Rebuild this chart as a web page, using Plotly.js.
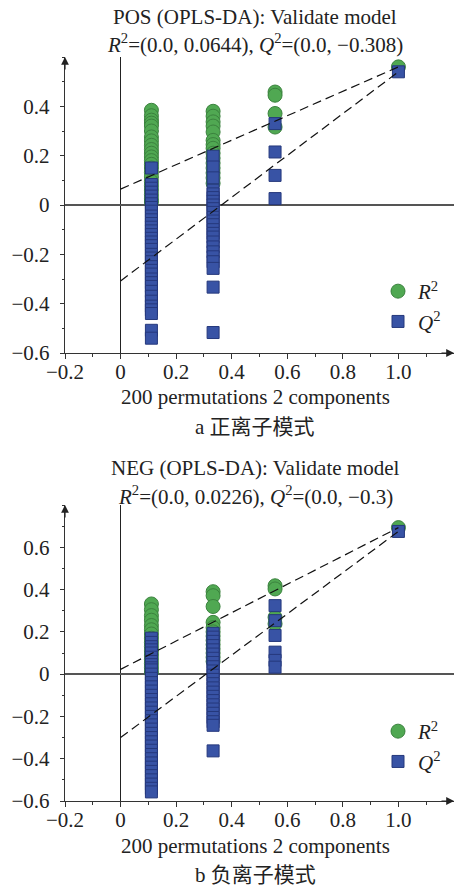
<!DOCTYPE html>
<html>
<head>
<meta charset="utf-8">
<script src="https://cdn.plot.ly/plotly-3.0.1.min.js"></script>
<style>html,body{margin:0;padding:0;background:#fff;}#chart{width:454px;height:888px;}</style>
</head>
<body>
<div id="chart"></div>
<script>
// Correlation (x) positions of permuted / original models
const permX = [0.111, 0.333, 0.556];
const origX = 1.0;

// POS (positive ion mode)
const posR2_a = [0.384, 0.362, 0.344, 0.332, 0.32, 0.3, 0.276, 0.26, 0.242, 0.225, 0.21, 0.195, 0.18, 0.165, 0.15, 0.132, 0.114, 0.095, 0.078, 0.06, 0.042, 0.025, 0.012];
const posR2_b = [0.38, 0.36, 0.337, 0.32, 0.296, 0.262, 0.245, 0.23, 0.21, 0.19, 0.17, 0.15, 0.13, 0.11, 0.088];
const posR2_c = [0.458, 0.445, 0.371, 0.316];
const posQ2_a = [0.15, 0.083, 0.068, 0.052, 0.036, 0.02, 0.005, -0.01, -0.025, -0.045, -0.06, -0.075, -0.09, -0.105, -0.12, -0.135, -0.15, -0.165, -0.18, -0.2, -0.215, -0.23, -0.25, -0.265, -0.28, -0.3, -0.315, -0.33, -0.35, -0.37, -0.39, -0.41, -0.425, -0.44, -0.508, -0.54];
const posQ2_b = [0.198, 0.154, 0.11, 0.06, 0.045, 0.03, 0.015, 0.0, -0.015, -0.03, -0.05, -0.065, -0.08, -0.1, -0.115, -0.13, -0.15, -0.17, -0.19, -0.21, -0.23, -0.257, -0.333, -0.517];
const posQ2_c = [0.33, 0.215, 0.12, 0.026];
const posR2_orig = 0.56;
const posQ2_orig = 0.54;
const posR2_icpt = 0.0644;
const posQ2_icpt = -0.308;

// NEG (negative ion mode)
const negR2_a = [0.332, 0.305, 0.277, 0.255, 0.23, 0.21, 0.19, 0.17, 0.15, 0.13, 0.11, 0.09, 0.07, 0.05, 0.03, 0.01];
const negR2_b = [0.39, 0.371, 0.32, 0.245, 0.22, 0.2, 0.18, 0.16, 0.14, 0.12, 0.1, 0.08, 0.06];
const negR2_c = [0.418, 0.403, 0.269, 0.238];
const negQ2_a = [0.17, 0.15, 0.13, 0.115, 0.1, 0.08, 0.06, 0.045, 0.03, 0.02, 0.0, -0.02, -0.04, -0.06, -0.08, -0.1, -0.12, -0.14, -0.16, -0.18, -0.2, -0.22, -0.24, -0.26, -0.28, -0.3, -0.32, -0.34, -0.36, -0.38, -0.4, -0.42, -0.44, -0.46, -0.48, -0.5, -0.52, -0.54, -0.557];
const negQ2_b = [0.193, 0.175, 0.155, 0.135, 0.115, 0.095, 0.075, 0.055, 0.035, 0.015, -0.005, -0.025, -0.045, -0.065, -0.085, -0.105, -0.125, -0.145, -0.165, -0.185, -0.205, -0.225, -0.242, -0.363];
const negQ2_c = [0.324, 0.253, 0.183, 0.104, 0.065, 0.033];
const negR2_orig = 0.693;
const negQ2_orig = 0.675;
const negR2_icpt = 0.0226;
const negQ2_icpt = -0.3;

// Tick labels
const xTickVals = [-0.2, 0, 0.2, 0.4, 0.6, 0.8, 1.0];
const xTickText = ['\u22120.2', '0', '0.2', '0.4', '0.6', '0.8', '1.0'];
const yTickValsTop = [-0.6, -0.4, -0.2, 0, 0.2, 0.4];
const yTickTextTop = ['\u22120.6', '\u22120.4', '\u22120.2', '0', '0.2', '0.4'];
const yTickValsBot = [-0.6, -0.4, -0.2, 0, 0.2, 0.4, 0.6];
const yTickTextBot = ['\u22120.6', '\u22120.4', '\u22120.2', '0', '0.2', '0.4', '0.6'];

const GREEN = '#50a852', GREEN_LINE = '#3b823e';
const BLUE = '#3853a5', BLUE_LINE = '#25387c';
const FONT = 'Liberation Serif, Noto Sans CJK SC, serif';

function colX(arrs) {
  const xs = [], ys = [];
  arrs.forEach((a, i) => a.forEach(v => { xs.push(permX[i]); ys.push(v); }));
  return {xs, ys};
}
function panel(r2cols, q2cols, r2o, q2o, r2i, q2i, xa, ya, leg) {
  const r = colX(r2cols), q = colX(q2cols);
  r.xs.push(origX); r.ys.push(r2o);
  q.xs.push(origX); q.ys.push(q2o);
  return [
    {x: r.xs, y: r.ys, xaxis: xa, yaxis: ya, type: 'scatter', mode: 'markers', name: '<i>R</i><sup>2</sup>', legend: leg,
     marker: {symbol: 'circle', size: 14, color: GREEN, line: {color: GREEN_LINE, width: 1}}},
    {x: q.xs, y: q.ys, xaxis: xa, yaxis: ya, type: 'scatter', mode: 'markers', name: '<i>Q</i><sup>2</sup>', legend: leg,
     marker: {symbol: 'square', size: 12, color: BLUE, line: {color: BLUE_LINE, width: 1}}},
    {x: [0, origX], y: [r2i, r2o], xaxis: xa, yaxis: ya, type: 'scatter', mode: 'lines', showlegend: false,
     line: {color: '#111', width: 1.2, dash: '9px,5px'}},
    {x: [0, origX], y: [q2i, q2o], xaxis: xa, yaxis: ya, type: 'scatter', mode: 'lines', showlegend: false,
     line: {color: '#111', width: 1.2, dash: '9px,5px'}}
  ];
}

const data = [].concat(
  panel([posR2_a, posR2_b, posR2_c], [posQ2_a, posQ2_b, posQ2_c], posR2_orig, posQ2_orig, posR2_icpt, posQ2_icpt, 'x', 'y', 'legend'),
  panel([negR2_a, negR2_b, negR2_c], [negQ2_a, negQ2_b, negQ2_c], negR2_orig, negQ2_orig, negR2_icpt, negQ2_icpt, 'x2', 'y2', 'legend2')
);

function xAxis(anchor) {
  return {
    anchor: anchor, domain: [0, 1], range: [-0.2, 1.2],
    tickvals: xTickVals, ticktext: xTickText,
    ticks: 'outside', ticklen: 5, tickwidth: 1, tickcolor: '#333', ticklabelstandoff: -5,
    minor: {ticks: 'outside', ticklen: 3, dtick: 0.1, tick0: 0, tickcolor: '#333'},
    showline: true, linecolor: '#333', linewidth: 1.2,
    showgrid: false, zeroline: true, zerolinecolor: '#222', zerolinewidth: 1,
    tickfont: {family: FONT, size: 21, color: '#222'}, fixedrange: true
  };
}
function yAxis(anchor, domain, range, tv, tt) {
  return {
    anchor: anchor, domain: domain, range: range,
    tickvals: tv, ticktext: tt,
    ticks: 'outside', ticklen: 4, tickwidth: 1, tickcolor: '#333', ticklabelstandoff: 6,
    minor: {ticks: 'outside', ticklen: 2, dtick: 0.1, tick0: 0, tickcolor: '#333'},
    showline: true, linecolor: '#333', linewidth: 1.2,
    showgrid: false, zeroline: true, zerolinecolor: '#555', zerolinewidth: 1.5,
    tickfont: {family: FONT, size: 21, color: '#222'}, fixedrange: true
  };
}
function py(px) { return (888 - px) / 888; }
function px2x(px) { return (px - 65) / 389; }
function txt(text, ypx, size) {
  return {text: text, xref: 'paper', yref: 'paper', x: px2x(255), y: py(ypx), xanchor: 'center', yanchor: 'middle',
          showarrow: false, font: {family: FONT, size: size || 21, color: '#222'}};
}
function arrow(x, y, xr, yr, ax, ay) {
  return {x: x, y: y, xref: xr, yref: yr, text: '', showarrow: true, ax: ax, ay: ay,
          arrowhead: 2, arrowsize: 1.3, arrowwidth: 1.2, arrowcolor: '#222', standoff: 0};
}

const layout = {
  width: 454, height: 888,
  margin: {l: 65, r: 0, t: 0, b: 0},
  paper_bgcolor: '#fff', plot_bgcolor: '#fff',
  font: {family: FONT, size: 21, color: '#222'},
  xaxis: xAxis('y'),
  yaxis: yAxis('x', [py(353), py(57)], [-0.6, 0.6], yTickValsTop, yTickTextTop),
  xaxis2: xAxis('y2'),
  yaxis2: yAxis('x2', [py(801), py(505)], [-0.6, 0.8], yTickValsBot, yTickTextBot),
  legend: {x: px2x(378), y: py(271), xanchor: 'left', yanchor: 'top', bgcolor: 'rgba(0,0,0,0)',
           font: {family: FONT, size: 21, color: '#222'}, tracegroupgap: 0, itemwidth: 30},
  legend2: {x: px2x(378), y: py(711), xanchor: 'left', yanchor: 'top', bgcolor: 'rgba(0,0,0,0)',
           font: {family: FONT, size: 21, color: '#222'}, tracegroupgap: 0, itemwidth: 30},
  annotations: [
    txt('POS (OPLS-DA): Validate model', 17),
    txt('<i>R</i><sup>2</sup>=(0.0, 0.0644), <i>Q</i><sup>2</sup>=(0.0, \u22120.308)', 43),
    txt('200 permutations 2 components', 397),
    txt('a 正离子模式', 427),
    txt('NEG (OPLS-DA): Validate model', 468),
    txt('<i>R</i><sup>2</sup>=(0.0, 0.0226), <i>Q</i><sup>2</sup>=(0.0, \u22120.3)', 495),
    txt('200 permutations 2 components', 846),
    txt('b 负离子模式', 875),
    arrow(-0.2, 0.6, 'x', 'y', 0, 14),
    arrow(1.2, -0.6, 'x', 'y', -14, 0),
    arrow(-0.2, 0.8, 'x2', 'y2', 0, 14),
    arrow(1.2, -0.6, 'x2', 'y2', -14, 0)
  ],
  showlegend: true
};

Plotly.newPlot('chart', data, layout, {staticPlot: true, displayModeBar: false});
</script>
</body>
</html>
